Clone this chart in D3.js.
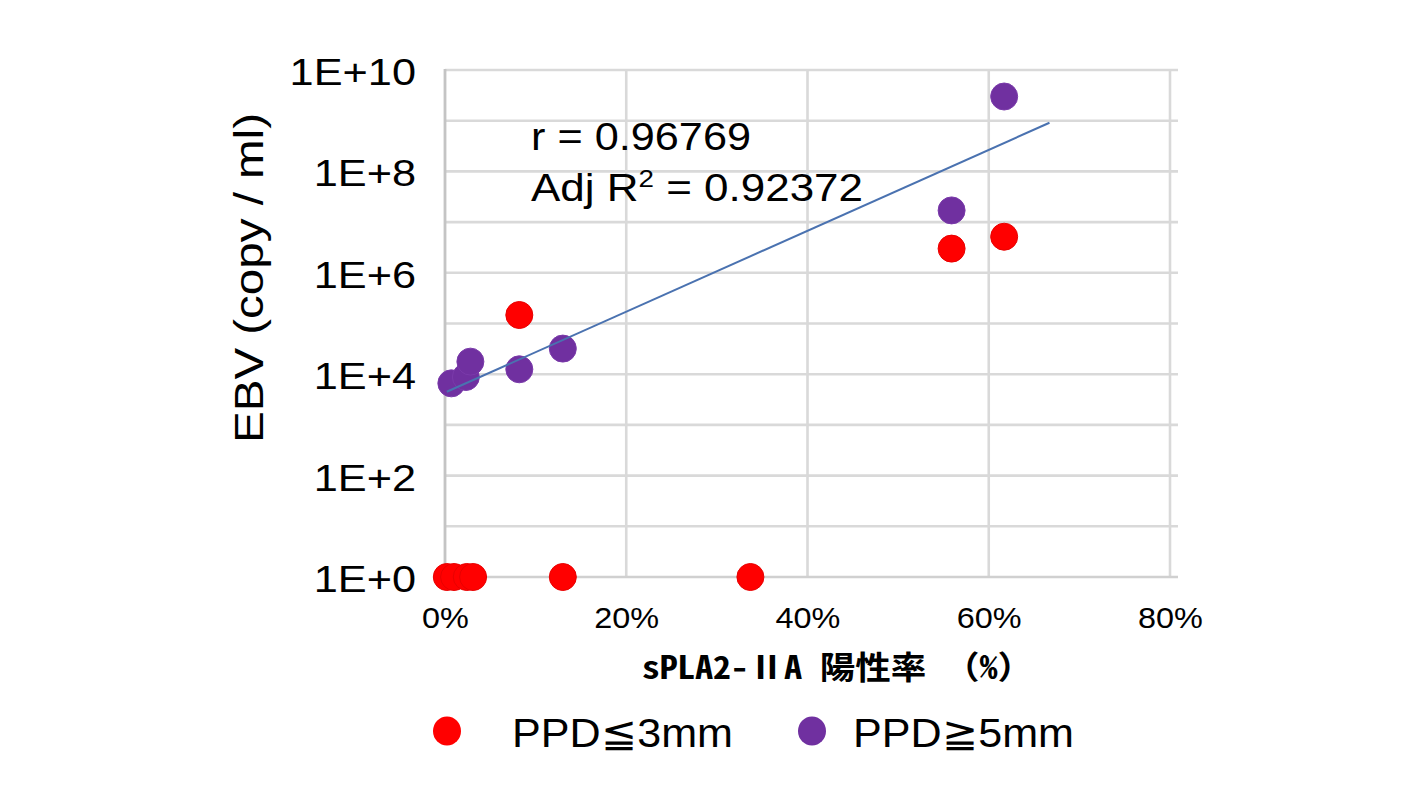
<!DOCTYPE html>
<html><head><meta charset="utf-8">
<script src="https://cdn.jsdelivr.net/npm/d3@7"></script>
<style>body{margin:0;background:#fff}</style>
</head><body>
<svg id="chart" width="1424" height="797"></svg>
<script>
// ---- data ----
const redX = [0.2, 1.0, 2.4, 3.1, 13.0, 33.7, 8.2, 55.9, 61.7];
const redY = [1, 1, 1, 1, 1, 1, 1.47e5, 3.0e6, 5.15e6];
const purpleX = [0.7, 2.3, 2.8, 8.2, 13.0, 55.9, 61.7];
const purpleY = [6.6e3, 8.8e3, 1.77e4, 1.25e4, 3.2e4, 1.7e7, 3.0e9];
const trendX = [0.2, 66.7];
const trendY = [4.5e3, 9.1e8];
const xTicks = [0, 20, 40, 60, 80];
const xTickLabels = ["0%", "20%", "40%", "60%", "80%"];
const yTicks = [1, 1e2, 1e4, 1e6, 1e8, 1e10];
const yTickLabels = ["1E+0", "1E+2", "1E+4", "1E+6", "1E+8", "1E+10"];
const yGrid = [1e1, 1e2, 1e3, 1e4, 1e5, 1e6, 1e7, 1e8, 1e9, 1e10];
const xGrid = [20, 40, 60, 80];
const seriesNames = ["PPD≦3mm", "PPD≧5mm"];
const annot1 = "r = 0.96769";
const annot2 = ["Adj R", "2", " = 0.92372"];
const xTitle = "sPLA2-ⅡA 陽性率 （%）";
const yTitle = "EBV (copy / ml)";

const RED = "#ff0000", PURPLE = "#7030a0";
const svg = d3.select("#chart");
const x = d3.scaleLinear().domain([0, 80]).range([445, 1170]);
const y = d3.scaleLog().domain([1, 1e10]).range([577, 70]);
const FONT = "'Liberation Sans', Arial, sans-serif";

function stretch(sel, ratio) {
  sel.each(function () {
    const w = this.getComputedTextLength();
    d3.select(this).attr("textLength", w * ratio).attr("lengthAdjust", "spacingAndGlyphs");
  });
}

// gridlines
svg.append("g").selectAll("line").data(yGrid).join("line")
  .attr("x1", x(0)).attr("x2", x(80) + 8)
  .attr("y1", d => y(d)).attr("y2", d => y(d))
  .attr("stroke", "#d9d9d9").attr("stroke-width", 2.6);
svg.append("g").selectAll("line").data(xGrid).join("line")
  .attr("x1", d => x(d)).attr("x2", d => x(d))
  .attr("y1", y(1e10)).attr("y2", y(1))
  .attr("stroke", "#d9d9d9").attr("stroke-width", 2.6);
// axes lines
svg.append("line").attr("x1", x(0)).attr("x2", x(80) + 8).attr("y1", y(1)).attr("y2", y(1))
  .attr("stroke", "#d0d0d0").attr("stroke-width", 2.6);
svg.append("line").attr("x1", x(0)).attr("x2", x(0)).attr("y1", y(1e10) - 1).attr("y2", y(1))
  .attr("stroke", "#c4c4c4").attr("stroke-width", 2.8);

// y axis labels
const yAxis = d3.axisLeft(y).tickValues(yTicks)
  .tickFormat((d, i) => yTickLabels[i]).tickSize(0).tickPadding(29);
const gy = svg.append("g").attr("transform", `translate(${x(0)},0)`).call(yAxis);
gy.select(".domain").remove();
gy.selectAll("text").attr("font-family", FONT).attr("font-size", 37).attr("fill", "#000")
  .attr("dy", "0.39em").call(stretch, 1.17);

// x axis labels
const xAxis = d3.axisBottom(x).tickValues(xTicks)
  .tickFormat((d, i) => xTickLabels[i]).tickSize(0).tickPadding(0);
const gx = svg.append("g").attr("transform", `translate(0,${y(1)})`).call(xAxis);
gx.select(".domain").remove();
gx.selectAll("text").attr("font-family", FONT).attr("font-size", 30).attr("fill", "#000")
  .attr("dy", null).attr("y", 51).call(stretch, 1.08);

// points
svg.append("g").selectAll("circle").data(redX).join("circle")
  .attr("cx", (d, i) => x(d)).attr("cy", (d, i) => y(redY[i])).attr("r", 13.5)
  .attr("fill", RED).attr("stroke", "#e80000").attr("stroke-width", 1);
svg.append("g").selectAll("circle").data(purpleX).join("circle")
  .attr("cx", (d, i) => x(d)).attr("cy", (d, i) => y(purpleY[i])).attr("r", 13.5)
  .attr("fill", PURPLE).attr("stroke", "#7a3aaa").attr("stroke-width", 1);

// trend line
svg.append("path").datum(trendX.map((d, i) => [d, trendY[i]]))
  .attr("d", d3.line().x(d => x(d[0])).y(d => y(d[1])))
  .attr("fill", "none").attr("stroke", "#4a72b0").attr("stroke-width", 2);

// annotation
svg.append("text").attr("x", 531).attr("y", 150).attr("font-family", FONT).attr("font-size", 38)
  .attr("fill", "#000").text(annot1).attr("textLength", 220).attr("lengthAdjust", "spacingAndGlyphs");
const t2 = svg.append("text").attr("x", 531).attr("y", 201).attr("font-family", FONT).attr("font-size", 38)
  .attr("fill", "#000");
t2.append("tspan").text(annot2[0]);
t2.append("tspan").attr("font-size", 24).attr("dy", -14).text(annot2[1]);
t2.append("tspan").attr("dy", 14).text(annot2[2]);
t2.attr("textLength", 332).attr("lengthAdjust", "spacingAndGlyphs");

// axis titles
svg.append("text").attr("x", 642).attr("y", 679)
  .attr("font-family", "'Noto Sans Mono CJK JP', 'Noto Sans CJK JP', sans-serif").attr("font-weight", "bold").attr("font-size", 32)
  .attr("fill", "#000").text(xTitle).attr("textLength", 391).attr("lengthAdjust", "spacingAndGlyphs");
svg.append("text").attr("transform", "translate(263,278) rotate(-90)").attr("text-anchor", "middle")
  .attr("font-family", FONT).attr("font-size", 40).attr("fill", "#000")
  .text(yTitle).attr("textLength", 330).attr("lengthAdjust", "spacingAndGlyphs");

// legend
const legX = [447, 812], legTextX = [512, 853];
const colors = [RED, PURPLE];
seriesNames.forEach((name, i) => {
  svg.append("ellipse").attr("cx", legX[i]).attr("cy", 731).attr("rx", 14).attr("ry", 14.5)
    .attr("fill", colors[i]);
  svg.append("text").attr("x", legTextX[i]).attr("y", 747).attr("font-family", FONT)
    .attr("font-size", 40).attr("fill", "#000").text(name)
    .attr("textLength", 221).attr("lengthAdjust", "spacingAndGlyphs");
});
</script>
</body></html>
